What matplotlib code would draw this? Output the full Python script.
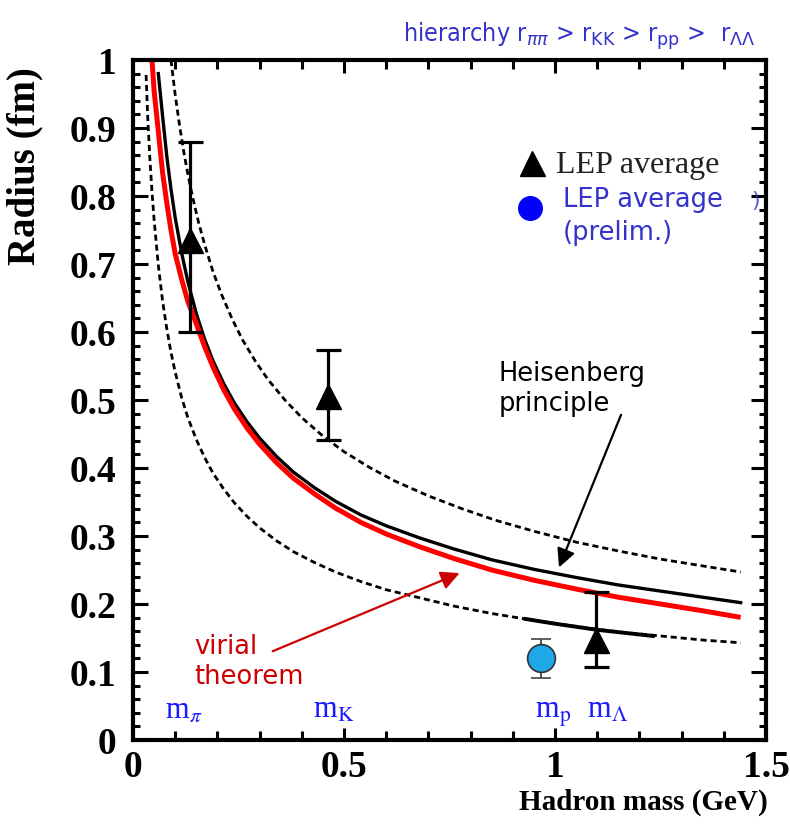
import matplotlib
matplotlib.use("Agg")
import matplotlib.pyplot as plt
from matplotlib.ticker import MultipleLocator

plt.rcParams["mathtext.fontset"] = "dejavusans"

# --- curves (hadron mass in GeV, radius in fm) -------------------------------
upper_m = [0.09, 0.10, 0.11, 0.12, 0.13, 0.14, 0.155, 0.17, 0.19, 0.21, 0.235, 0.26, 0.29, 0.32,
           0.36, 0.40, 0.45, 0.50, 0.56, 0.62, 0.70, 0.78, 0.86, 0.95, 1.05, 1.15, 1.25, 1.35, 1.44]
upper_r = [1.0, 0.949, 0.905, 0.866, 0.832, 0.802, 0.762, 0.728, 0.688, 0.655, 0.619, 0.588, 0.557, 0.530,
           0.500, 0.474, 0.447, 0.424, 0.401, 0.381, 0.359, 0.340, 0.323, 0.307, 0.291, 0.278, 0.266, 0.256, 0.247]

heis_m = [0.06, 0.07, 0.08, 0.09, 0.10, 0.115, 0.13, 0.15, 0.17, 0.19, 0.215, 0.24, 0.27, 0.30, 0.34,
          0.38, 0.43, 0.48, 0.54, 0.60, 0.68, 0.76, 0.85, 0.95, 1.05, 1.15, 1.25, 1.35, 1.44]
heis_r = [0.98, 0.918, 0.859, 0.810, 0.768, 0.717, 0.674, 0.627, 0.589, 0.557, 0.524, 0.496, 0.468, 0.444, 0.417,
          0.394, 0.371, 0.351, 0.331, 0.315, 0.297, 0.281, 0.265, 0.251, 0.239, 0.228, 0.219, 0.210, 0.202]

vir_m = [0.045, 0.05, 0.06, 0.07, 0.08, 0.09, 0.10, 0.115, 0.13, 0.15, 0.17, 0.19, 0.215, 0.24, 0.27, 0.30,
         0.34, 0.38, 0.43, 0.48, 0.54, 0.60, 0.68, 0.76, 0.85, 0.95, 1.05, 1.15, 1.25, 1.35, 1.434]
vir_r = [1.0, 0.955, 0.895, 0.835, 0.79, 0.75, 0.715, 0.678, 0.645, 0.612, 0.578, 0.548, 0.515, 0.487, 0.459, 0.435,
         0.408, 0.385, 0.362, 0.341, 0.320, 0.303, 0.284, 0.267, 0.250, 0.235, 0.222, 0.210, 0.200, 0.190, 0.181]

lower_m = [0.031, 0.035, 0.04, 0.045, 0.05, 0.06, 0.07, 0.08, 0.09, 0.10, 0.115, 0.13, 0.15, 0.17, 0.19, 0.215,
           0.24, 0.27, 0.30, 0.34, 0.38, 0.43, 0.48, 0.54, 0.60, 0.68, 0.76, 0.85, 0.95, 1.05, 1.15, 1.25, 1.35, 1.44]
lower_r = [0.978, 0.914, 0.855, 0.806, 0.765, 0.698, 0.646, 0.605, 0.570, 0.541, 0.504, 0.474, 0.442, 0.415, 0.392, 0.369,
           0.349, 0.329, 0.312, 0.293, 0.277, 0.261, 0.247, 0.233, 0.221, 0.209, 0.197, 0.186, 0.176, 0.167, 0.159, 0.153, 0.147, 0.143]

lam_m = [0.93, 1.0, 1.1, 1.232]
lam_r = [0.178, 0.171, 0.162, 0.153]

# --- measurements -------------------------------------------------------------
lep_m = [0.135, 0.462, 1.097]
lep_r = [0.735, 0.506, 0.147]
lep_lo = [0.135, 0.065, 0.040]
lep_hi = [0.145, 0.068, 0.071]

pre_m = [0.967]
pre_r = [0.12]
pre_lo = [0.029]
pre_hi = [0.028]

mass_labels = [r"m$_{\pi}$", r"m$_{\mathrm{K}}$", r"m$_{\mathrm{p}}$", r"m$_{\Lambda}$"]
mass_pos = [0.076, 0.427, 0.953, 1.076]

BLUE = "#3333CC"
SERIF = "Liberation Serif"

fig = plt.figure(figsize=(7.9, 8.3), dpi=100)
ax = fig.add_axes([133 / 790, 1 - 740 / 830, 633 / 790, 680 / 830])

dash = (2.2, 1.4)
ax.plot(upper_m, upper_r, color="black", lw=2.0, ls=(0, dash))
ax.plot(lower_m, lower_r, color="black", lw=2.0, ls=(0, dash))
ax.plot(lam_m, lam_r, color="black", lw=2.8)
ax.plot(heis_m, heis_r, color="black", lw=2.4)
ax.plot(vir_m, vir_r, color="#FF0000", lw=3.6)

ax.errorbar(lep_m, lep_r, yerr=[lep_lo, lep_hi], fmt="^", ms=18, color="black",
            elinewidth=2.3, capsize=9, capthick=2.3, zorder=5)
ax.errorbar(pre_m, pre_r, yerr=[pre_lo, pre_hi], fmt="o", ms=20, mfc="#1EA8E8",
            mec="#333333", mew=1.2, ecolor="#444444", elinewidth=1.3, capsize=7,
            capthick=1.3, zorder=5)

ax.set_xlim(0, 1.5)
ax.set_ylim(0, 1)
ax.xaxis.set_minor_locator(MultipleLocator(0.1))
ax.yaxis.set_minor_locator(MultipleLocator(0.02))
ax.set_xticks([0, 0.5, 1, 1.5], ["0", "0.5", "1", "1.5"])
ax.set_yticks([i / 10 for i in range(11)], ["0"] + [f"0.{i}" for i in range(1, 10)] + ["1"])
ax.tick_params(which="both", direction="in", top=True, right=True, width=2.2, color="black")
ax.tick_params(axis="x", which="major", length=9, pad=7)
ax.tick_params(axis="x", which="minor", length=6.5)
ax.tick_params(axis="y", which="major", length=11, pad=12)
ax.tick_params(axis="y", which="minor", length=5)
for lab in ax.get_xticklabels() + ax.get_yticklabels():
    lab.set_fontfamily(SERIF)
    lab.set_fontweight("bold")
    lab.set_fontsize(27)
for sp in ax.spines.values():
    sp.set_linewidth(3)

ax.set_xlabel("Hadron mass (GeV)", loc="right", fontfamily=SERIF, fontweight="bold", fontsize=21)
ax.xaxis.set_label_coords(1.003, -0.072)
fig.text(25 / 790, 1 - 166 / 830, "Radius (fm)", rotation=90, ha="center", va="center",
         fontfamily=SERIF, fontweight="bold", fontsize=28)

# mass markers along the bottom
for lab, m in zip(mass_labels, mass_pos):
    ax.text(m, 0.032, lab, color="#1A1AFF", fontfamily=SERIF, fontsize=22,
            math_fontfamily="stix", ha="left", va="baseline")

# legend drawn by hand
ax.plot([0.945], [0.849], marker="^", ms=18, color="black", clip_on=False)
ax.text(1.002, 0.834, "LEP average", fontfamily=SERIF, fontsize=23, color="#222222", va="baseline")
ax.plot([0.941], [0.782], marker="o", ms=17, color="#0000FF", clip_on=False)
ax.text(1.019, 0.784, "LEP average", fontsize=18.5, color=BLUE, va="baseline")
ax.text(1.019, 0.736, "(prelim.)", fontsize=18.5, color=BLUE, va="baseline")
ax.text(1.466, 0.784, ")", fontsize=16, color=BLUE, va="baseline", alpha=0.8)

# annotations
ax.text(0.867, 0.557, "Heisenberg\nprinciple", fontsize=18.5, color="black", va="top", ha="left")
ax.annotate("", xy=(1.007, 0.25), xytext=(1.159, 0.482),
            arrowprops=dict(arrowstyle="-|>", color="black", lw=1.6, mutation_scale=28))
ax.text(0.145, 0.156, "virial\ntheorem", fontsize=18.5, color="#CC0000", va="top", ha="left")
ax.annotate("", xy=(0.78, 0.247), xytext=(0.325, 0.129),
            arrowprops=dict(arrowstyle="-|>", color="#CC0000", lw=1.6, mutation_scale=28))

fig.text(755 / 790, 1 - 42 / 830,
         r"hierarchy r$_{\pi\pi}$ > r$_{\mathrm{KK}}$ > r$_{\mathrm{pp}}$ >  r$_{\Lambda\Lambda}$",
         ha="right", va="baseline", fontsize=18, fontstretch="condensed", color=BLUE)

fig.savefig("out.png", dpi=100)
